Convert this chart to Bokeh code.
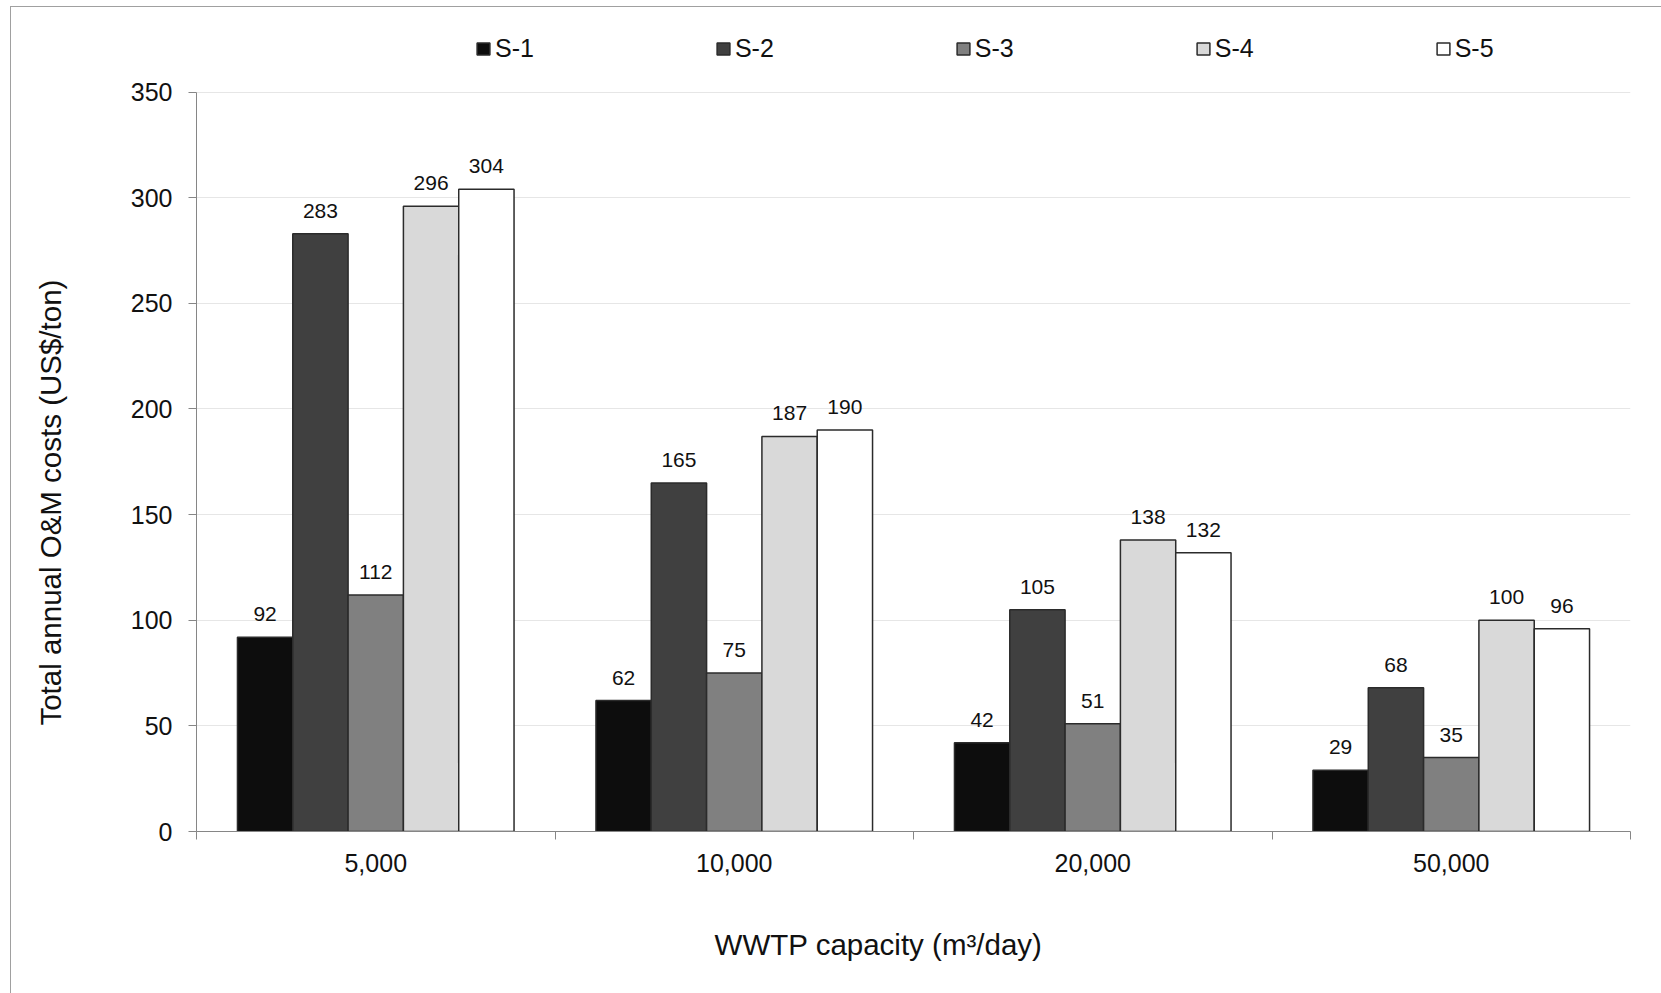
import math
from bokeh.plotting import figure
from bokeh.layouts import row, column
from bokeh.models import ColumnDataSource, Range1d, FixedTicker, Legend, LegendItem
from bokeh.core.properties import value
from bokeh.embed import file_html
from bokeh.resources import INLINE

# ---- data ----
capacities = ["5,000", "10,000", "20,000", "50,000"]
series_names = ["S-1", "S-2", "S-3", "S-4", "S-5"]
s1 = [92, 62, 42, 29]
s2 = [283, 165, 105, 68]
s3 = [112, 75, 51, 35]
s4 = [296, 187, 138, 100]
s5 = [304, 190, 132, 96]
y_ticks = [0, 50, 100, 150, 200, 250, 300, 350]
x_title = "WWTP capacity (m\u00b3/day)"
y_title = "Total annual O&M costs (US$/ton)"

fills = ["#0d0d0d", "#404040", "#808080", "#d9d9d9", "#ffffff"]
all_series = [s1, s2, s3, s4, s5]

FONT = "Liberation Sans"
bar_w = 0.1543

TW = 90      # width of the y-title strip
MH = 900     # height of the main row
XH = 86      # height of the x-title strip
FULL_W = 1650

p = figure(width=FULL_W - TW, height=MH, output_backend="svg", toolbar_location=None,
           x_range=Range1d(0, len(capacities)), y_range=Range1d(0, 383.9),
           min_border_left=95, min_border_right=31, min_border_top=13, min_border_bottom=76)
p.outline_line_color = None
p.background_fill_color = "white"
p.xgrid.visible = False
p.ygrid.grid_line_color = "#e6e6e6"
p.ygrid.grid_line_width = 1

items = []
for j, (name, vals, col) in enumerate(zip(series_names, all_series, fills)):
    xs = [i + 0.5 + (j - 2) * bar_w for i in range(len(capacities))]
    src = ColumnDataSource(dict(x=xs, top=vals, lab=[str(v) for v in vals]))
    r = p.vbar(x="x", top="top", bottom=0, width=bar_w, source=src,
               fill_color=col, line_color="#2b2b2b", line_width=1.5)
    p.text(x="x", y="top", text="lab", source=src, text_align="center",
           text_baseline="alphabetic", y_offset=-23, text_font=value(FONT),
           text_font_size="21px", text_color="#111111")
    items.append(LegendItem(label=name, renderers=[r]))

legend = Legend(items=items, orientation="horizontal", location=(279, 768),
                spacing=181, glyph_width=16, glyph_height=15, label_standoff=4,
                label_text_font=FONT, label_text_font_size="25px",
                label_text_color="#111111", padding=0, margin=0,
                border_line_alpha=0, background_fill_alpha=0)
p.add_layout(legend)

# y axis
ya = p.yaxis[0]
ya.ticker = FixedTicker(ticks=y_ticks)
ya.bounds = (0, 350)
ya.axis_line_color = "#868686"
ya.major_tick_line_color = "#868686"
ya.major_tick_out = 8
ya.major_tick_in = 0
ya.minor_tick_line_color = None
ya.major_label_standoff = 16
ya.major_label_text_font = FONT
ya.major_label_text_font_size = "25px"
ya.major_label_text_color = "#111111"

# x axis
xa = p.xaxis[0]
xa.ticker = FixedTicker(ticks=[i + 0.5 for i in range(len(capacities))],
                        minor_ticks=list(range(len(capacities) + 1)))
xa.major_label_overrides = {i + 0.5: c for i, c in enumerate(capacities)}
xa.axis_line_color = "#868686"
xa.major_tick_line_color = None
xa.major_tick_out = 8
xa.major_tick_in = 0
xa.minor_tick_line_color = "#868686"
xa.minor_tick_out = 8
xa.minor_tick_in = 0
xa.major_label_standoff = 14
xa.major_label_text_font = FONT
xa.major_label_text_font_size = "25px"
xa.major_label_text_color = "#111111"


def strip(w, h):
    f = figure(width=w, height=h, output_backend="svg", toolbar_location=None,
               x_range=Range1d(0, w), y_range=Range1d(0, h),
               x_axis_location=None, y_axis_location=None, min_border=0)
    f.grid.visible = False
    f.outline_line_color = None
    f.background_fill_color = "white"
    f.border_fill_color = "white"
    return f

# y-axis title strip (left of the plot)
tfig = strip(TW, MH)
tfig.text(x=[38.8], y=[365], text=[y_title], angle=math.pi / 2,
          text_align="center", text_baseline="alphabetic",
          text_font=value(FONT), text_font_size="29.5px", text_color="#111111")

# x-axis title strip (below the plot)
xfig = strip(FULL_W, XH)
xfig.text(x=[867], y=[48.7], text=[x_title],
          text_align="center", text_baseline="alphabetic",
          text_font=value(FONT), text_font_size="29.5px", text_color="#111111")

layout = column(row(tfig, p, spacing=0), xfig, spacing=0, margin=(6, 0, 0, 10))
layout.styles = {"border-left": "1px solid #a0a0a0", "border-top": "1px solid #a0a0a0"}

open("out.html", "w").write(file_html(layout, INLINE))
